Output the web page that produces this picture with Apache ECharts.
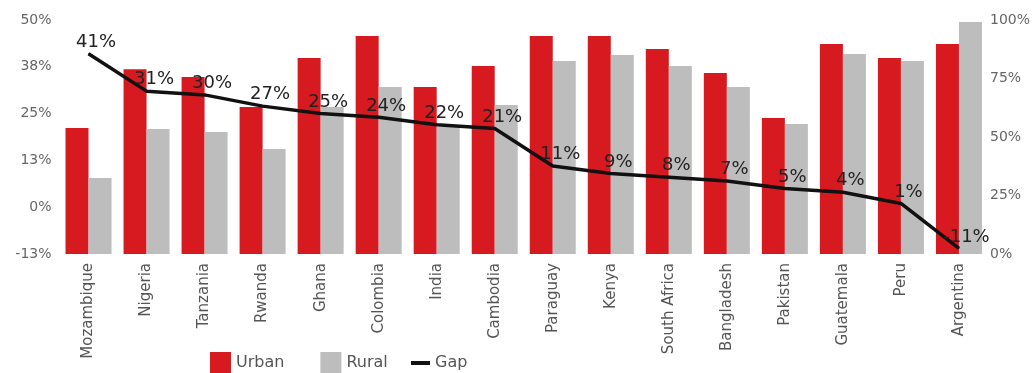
<!DOCTYPE html>
<html>
<head>
<meta charset="utf-8">
<script src="https://cdn.jsdelivr.net/npm/echarts@6/dist/echarts.min.js"></script>
<style>html,body{margin:0;padding:0;background:#fff;}#c{width:1033px;height:373px;}</style>
</head>
<body>
<div id="c"></div>
<script>
const categories = ['Mozambique','Nigeria','Tanzania','Rwanda','Ghana','Colombia','India','Cambodia','Paraguay','Kenya','South Africa','Bangladesh','Pakistan','Guatemala','Peru','Argentina'];
const urban = [53.8, 79, 75.6, 62.8, 83.8, 93.2, 71.4, 80.3, 93.2, 93.2, 87.6, 77.4, 58.1, 89.7, 83.8, 89.7];
const rural = [32.5, 53.4, 52.1, 44.9, 62.8, 71.4, 54.3, 63.7, 82.5, 85, 80.3, 71.4, 55.6, 85.5, 82.5, 99.1];
const gap = [41, 31, 30, 27, 25, 24, 22, 21, 11, 9, 8, 7, 5, 4, 1, -11];
const leftTickLabels = ['-13%', '0%', '13%', '25%', '38%', '50%'];
const rightTickLabels = ['0%', '25%', '50%', '75%', '100%'];

const FONT = 'DejaVu Sans';
const chart = echarts.init(document.getElementById('c'), null, {renderer: 'canvas'});
chart.setOption({
  animation: false,
  textStyle: {fontFamily: FONT},
  grid: {left: 59.5, right: 44.5, top: 20, bottom: 119, containLabel: false},
  legend: [
    {
      data: ['Urban', 'Rural'],
      left: 205, top: 347,
      itemWidth: 21, itemHeight: 21, itemGap: 36,
      icon: 'rect',
      textStyle: {fontFamily: FONT, fontSize: 16, color: '#555'}
    },
    {
      data: ['Gap'],
      left: 406, top: 350,
      itemWidth: 19, itemHeight: 4,
      icon: 'rect',
      itemStyle: {color: '#111'},
      textStyle: {fontFamily: FONT, fontSize: 16, color: '#555'}
    }
  ],
  xAxis: {
    type: 'category',
    data: categories,
    axisLine: {show: false},
    axisTick: {show: false},
    axisLabel: {rotate: 90, margin: 9, fontSize: 15, color: '#555', fontFamily: FONT, interval: 0}
  },
  yAxis: [
    {
      type: 'value', min: -12.5, max: 50, interval: 12.5,
      splitLine: {show: false}, axisLine: {show: false}, axisTick: {show: false},
      axisLabel: {
        margin: 8, fontSize: 14, color: '#666', fontFamily: FONT,
        padding: [0, 0, 8, 0],
        formatter: (v, i) => leftTickLabels[i]
      }
    },
    {
      type: 'value', min: 0, max: 100, interval: 25,
      splitLine: {show: false}, axisLine: {show: false}, axisTick: {show: false},
      axisLabel: {
        margin: 2, fontSize: 14, color: '#666', fontFamily: FONT,
        formatter: (v, i) => rightTickLabels[i]
      }
    }
  ],
  series: [
    {
      name: 'Urban', type: 'bar', yAxisIndex: 1, data: urban,
      barWidth: 23, barGap: '0%',
      itemStyle: {color: '#D71920'}
    },
    {
      name: 'Rural', type: 'bar', yAxisIndex: 1, data: rural,
      barWidth: 23, barGap: '0%',
      itemStyle: {color: '#BDBDBD'}
    },
    {
      name: 'Gap', type: 'line', yAxisIndex: 0, data: gap,
      symbol: 'circle', symbolSize: 1, showSymbol: true,
      lineStyle: {color: '#111', width: 3.5},
      itemStyle: {color: '#111'},
      label: {
        show: true, position: [8, -2], align: 'center', verticalAlign: 'bottom',
        fontSize: 18, color: '#222', fontFamily: FONT,
        formatter: p => p.value + '%'
      },
      labelLayout: {hideOverlap: false},
      z: 5
    }
  ]
});
</script>
</body>
</html>
